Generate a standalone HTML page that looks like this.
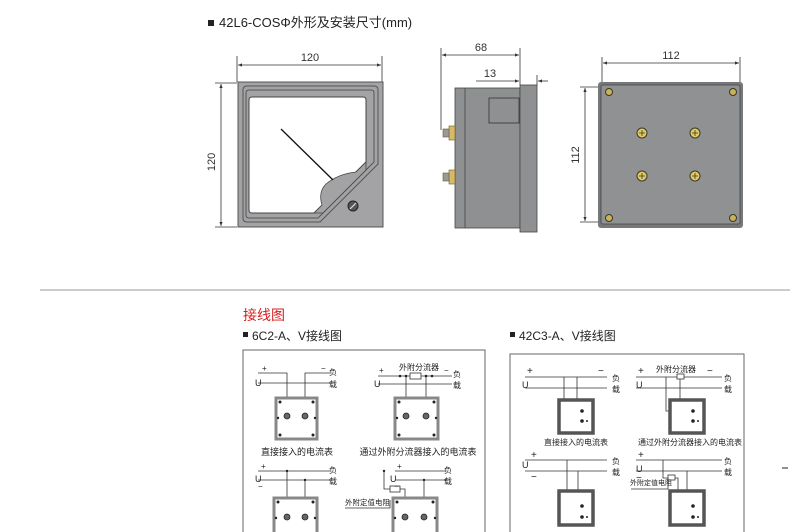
<!DOCTYPE html>
<html><head><meta charset="utf-8"><style>
html,body{margin:0;padding:0;background:#fff;}
svg{display:block;font-family:"Liberation Sans","Noto Sans CJK SC",sans-serif;}
</style></head><body>
<svg width="790" height="532" viewBox="0 0 790 532" xmlns="http://www.w3.org/2000/svg">
<defs>
<marker id="ar" viewBox="0 0 10 10" refX="10" refY="5" markerWidth="7" markerHeight="5" orient="auto-start-reverse"><path d="M0,1 L10,5 L0,9z" fill="#333"/></marker>
</defs>
<rect x="208" y="20" width="6" height="6" fill="#222"/>
<text x="219" y="27" font-size="13" fill="#222">42L6-COSΦ外形及安装尺寸(mm)</text>

<!-- FRONT VIEW -->
<g stroke="#333" stroke-width="0.8" fill="none">
<line x1="237" y1="56" x2="237" y2="82"/><line x1="382" y1="56" x2="382" y2="82"/>
<line x1="238" y1="65" x2="381" y2="65" marker-start="url(#ar)" marker-end="url(#ar)"/>
<line x1="215" y1="83" x2="237" y2="83"/><line x1="215" y1="227" x2="237" y2="227"/>
<line x1="221" y1="84" x2="221" y2="226" marker-start="url(#ar)" marker-end="url(#ar)"/>
</g>
<text x="310" y="61" font-size="11" fill="#333" text-anchor="middle">120</text>
<text transform="translate(215,162) rotate(-90)" font-size="11" fill="#333" text-anchor="middle">120</text>
<rect x="238" y="82" width="145" height="145" fill="#a3a3a5" stroke="#555" stroke-width="1"/>
<path d="M243,90 Q243,86 247,86 L374,86 Q378,86 378,90 L378,164 L320,222 L247,222 Q243,222 243,218Z" fill="none" stroke="#555" stroke-width="1"/>
<path d="M246,93 Q246,90 249,90 L371,90 Q374,90 374,93 L374,162 L318,218 L249,218 Q246,218 246,215Z" fill="none" stroke="#555" stroke-width="1"/>
<path d="M249,100 Q249,97 252,97 L363,97 Q366,97 366,100 L366,162 L314,213 L252,213 Q249,213 249,210Z" fill="#fff" stroke="#444" stroke-width="1"/>
<path d="M314,213 L322,205 Q318,192 326,184 Q338,174 356,172 L366,162 L366,170 L323,213Z" fill="#a3a3a5" stroke="#444" stroke-width="0.8"/>
<line x1="281" y1="129" x2="333" y2="180" stroke="#111" stroke-width="1.3"/>
<circle cx="353" cy="206" r="5" fill="#555" stroke="#222"/>
<line x1="350" y1="209" x2="356" y2="203" stroke="#ddd" stroke-width="1.2"/>

<!-- SIDE VIEW -->
<g stroke="#333" stroke-width="0.8" fill="none">
<line x1="441" y1="48" x2="441" y2="130"/><line x1="520" y1="48" x2="520" y2="85"/>
<line x1="442" y1="55" x2="519" y2="55" marker-start="url(#ar)" marker-end="url(#ar)"/>
<line x1="476" y1="81" x2="519" y2="81" marker-end="url(#ar)"/>
<line x1="537" y1="75" x2="537" y2="85"/>
<line x1="548" y1="81" x2="538" y2="81" marker-end="url(#ar)"/>
</g>
<text x="481" y="51" font-size="11" fill="#333" text-anchor="middle">68</text>
<text x="490" y="77" font-size="11" fill="#333" text-anchor="middle">13</text>
<rect x="455" y="88" width="65" height="140" fill="#8f9092" stroke="#444" stroke-width="0.8"/>
<line x1="465" y1="88" x2="465" y2="228" stroke="#444" stroke-width="0.8"/>
<rect x="489" y="98" width="30" height="25" fill="#8f9092" stroke="#333" stroke-width="0.8"/>
<rect x="520" y="85" width="17" height="147" fill="#8f9092" stroke="#444" stroke-width="0.8"/>
<g fill="#d6b96a" stroke="#6b5a2a" stroke-width="0.6">
<rect x="449" y="126" width="6" height="14"/><rect x="443" y="129" width="6" height="8" fill="#999"/>
<rect x="449" y="170" width="6" height="14"/><rect x="443" y="173" width="6" height="8" fill="#999"/>
</g>

<!-- BACK VIEW -->
<g stroke="#333" stroke-width="0.8" fill="none">
<line x1="602" y1="57" x2="602" y2="85"/><line x1="740" y1="57" x2="740" y2="85"/>
<line x1="603" y1="63" x2="739" y2="63" marker-start="url(#ar)" marker-end="url(#ar)"/>
<line x1="580" y1="87" x2="605" y2="87"/><line x1="580" y1="222" x2="605" y2="222"/>
<line x1="585" y1="88" x2="585" y2="221" marker-start="url(#ar)" marker-end="url(#ar)"/>
</g>
<text x="671" y="59" font-size="11" fill="#333" text-anchor="middle">112</text>
<text transform="translate(579,155) rotate(-90)" font-size="11" fill="#333" text-anchor="middle">112</text>
<rect x="598" y="82" width="145" height="146" rx="3" fill="#77787a"/>
<rect x="601" y="85" width="139" height="139" rx="2" fill="#909193" stroke="#444" stroke-width="0.8"/>
<g fill="#c9b25e" stroke="#3a3a20" stroke-width="1">
<circle cx="609" cy="92" r="3.5"/><circle cx="733" cy="92" r="3.5"/><circle cx="609" cy="218" r="3.5"/><circle cx="733" cy="218" r="3.5"/>
<circle cx="642" cy="133" r="5" fill="#e2c96a"/><circle cx="695" cy="133" r="5" fill="#e2c96a"/><circle cx="642" cy="176" r="5" fill="#e2c96a"/><circle cx="695" cy="176" r="5" fill="#e2c96a"/>
</g>
<g stroke="#3a3a20" stroke-width="0.8">
<path d="M639,133h6M642,130v6M692,133h6M695,130v6M639,176h6M642,173v6M692,176h6M695,173v6"/>
</g>

<line x1="40" y1="290" x2="790" y2="290" stroke="#999" stroke-width="1"/>

<text x="243" y="320" font-size="14" fill="#d42020">接线图</text>
<rect x="243" y="332" width="5" height="5" fill="#222"/>
<text x="252" y="340" font-size="12" fill="#222">6C2-A、V接线图</text>
<rect x="510" y="332" width="5" height="5" fill="#222"/>
<text x="519" y="340" font-size="12" fill="#222">42C3-A、V接线图</text>

<!-- BOX 1 -->
<rect x="243" y="350" width="242" height="190" fill="none" stroke="#666" stroke-width="1"/>
<g stroke="#333" stroke-width="0.8" fill="none">
<path d="M258,373H287V416M305,416V373H330M258,383H330"/>
<path d="M378,376H410M421,376H452M378,384H452M406,376V416M426,376V416"/>
<rect x="410" y="373" width="11" height="6" fill="#fff"/>
<path d="M258,471H330M258,480H330M287,471V517M305,480V517"/>
<path d="M395,471H446M395,480H446M384,471V489H390M400,489H405V517M424,480V517"/>
<rect x="390" y="486" width="10" height="6" fill="#fff"/>
<path d="M345,508H390V500"/>
</g>
<g fill="#fff" stroke="#888" stroke-width="3">
<rect x="276" y="398" width="41" height="41"/><rect x="395" y="398" width="43" height="41"/>
<rect x="274" y="498" width="43" height="40"/><rect x="393" y="498" width="44" height="40"/>
</g>
<g fill="#222">
<circle cx="280" cy="402" r="1.5"/><circle cx="313" cy="402" r="1.5"/><circle cx="280" cy="435" r="1.5"/><circle cx="313" cy="435" r="1.5"/>
<circle cx="278" cy="418" r="1.2"/><circle cx="315" cy="418" r="1.2"/>
<circle cx="399" cy="402" r="1.5"/><circle cx="434" cy="402" r="1.5"/><circle cx="399" cy="435" r="1.5"/><circle cx="434" cy="435" r="1.5"/>
<circle cx="397" cy="418" r="1.2"/><circle cx="436" cy="418" r="1.2"/>
<circle cx="278" cy="502" r="1.5"/><circle cx="313" cy="502" r="1.5"/><circle cx="276" cy="518" r="1.2"/><circle cx="315" cy="518" r="1.2"/>
<circle cx="397" cy="502" r="1.5"/><circle cx="433" cy="502" r="1.5"/><circle cx="395" cy="518" r="1.2"/><circle cx="435" cy="518" r="1.2"/>
<circle cx="400" cy="376" r="1.3"/><circle cx="432" cy="376" r="1.3"/><circle cx="406" cy="376" r="1.3"/><circle cx="426" cy="376" r="1.3"/>
<circle cx="287" cy="471" r="1.2"/><circle cx="305" cy="480" r="1.2"/><circle cx="384" cy="471" r="1.2"/><circle cx="424" cy="480" r="1.2"/>
</g>
<g fill="#666" stroke="#222" stroke-width="0.8">
<circle cx="287" cy="416" r="3"/><circle cx="305" cy="416" r="3"/><circle cx="406" cy="416" r="3"/><circle cx="426" cy="416" r="3"/>
<circle cx="287" cy="517" r="3"/><circle cx="305" cy="517" r="3"/><circle cx="405" cy="517" r="3"/><circle cx="424" cy="517" r="3"/>
</g>
<g font-size="8" fill="#222">
<text x="262" y="371">+</text><text x="255" y="386" font-size="9">U</text><text x="321" y="371">−</text><text x="329" y="375">负</text><text x="329" y="387">载</text>
<text x="379" y="373">+</text><text x="374" y="387" font-size="9">U</text><text x="444" y="373">−</text><text x="453" y="377">负</text><text x="453" y="388">载</text>
<text x="419" y="370" text-anchor="middle">外附分流器</text>
<text x="297" y="455" text-anchor="middle" font-size="9">直接接入的电流表</text>
<text x="418" y="455" text-anchor="middle" font-size="9">通过外附分流器接入的电流表</text>
<text x="261" y="469">+</text><text x="255" y="482" font-size="9">U</text><text x="258" y="489">−</text><text x="329" y="473">负</text><text x="329" y="484">载</text>
<text x="397" y="469">+</text><text x="390" y="482" font-size="9">U</text><text x="394" y="489">−</text><text x="444" y="473">负</text><text x="444" y="484">载</text>
<text x="345" y="505" font-size="7.5">外附定值电阻</text>
</g>

<!-- BOX 2 -->
<rect x="510" y="354" width="234" height="190" fill="none" stroke="#666" stroke-width="1"/>
<g stroke="#333" stroke-width="0.8" fill="none">
<path d="M525,377H607M525,388H607M564,377V411H581M577,377V421H581"/>
<path d="M636,377H677M684,377H722M636,388H722M666,377V411H692M680,377V421H692"/>
<rect x="677" y="374" width="7" height="5" fill="#fff"/>
<path d="M525,460H607M525,471H607M567,460V506H581M578,471V517H581"/>
<path d="M636,460H722M636,471H722M663,460V478H668M675,478H678V506H692M687,471V517H692"/>
<rect x="668" y="475" width="7" height="5" fill="#fff"/>
<path d="M631,489H668V478"/>
</g>
<g fill="#fff" stroke="#555" stroke-width="3.5">
<rect x="559" y="400" width="34" height="33"/><rect x="670" y="400" width="34" height="33"/>
<rect x="559" y="491" width="34" height="34"/><rect x="670" y="491" width="34" height="34"/>
</g>
<g fill="#222">
<circle cx="582" cy="411" r="1.8"/><circle cx="582" cy="421" r="1.8"/><circle cx="587" cy="421" r="1"/>
<circle cx="693" cy="411" r="1.8"/><circle cx="693" cy="421" r="1.8"/><circle cx="698" cy="421" r="1"/>
<circle cx="582" cy="506" r="1.8"/><circle cx="582" cy="517" r="1.8"/><circle cx="587" cy="517" r="1"/>
<circle cx="693" cy="506" r="1.8"/><circle cx="693" cy="517" r="1.8"/><circle cx="698" cy="517" r="1"/>
</g>
<g font-size="8" fill="#222">
<text x="527" y="374" font-size="10">+</text><text x="522" y="388" font-size="9">U</text><text x="598" y="374" font-size="10">−</text><text x="612" y="381">负</text><text x="612" y="392">载</text>
<text x="638" y="374" font-size="10">+</text><text x="636" y="388" font-size="9">U</text><text x="707" y="374" font-size="10">−</text><text x="724" y="381">负</text><text x="724" y="392">载</text>
<text x="676" y="372" text-anchor="middle">外附分流器</text>
<text x="576" y="445" text-anchor="middle">直接接入的电流表</text>
<text x="690" y="445" text-anchor="middle">通过外附分流器接入的电流表</text>
<text x="531" y="458" font-size="10">+</text><text x="522" y="468" font-size="9">U</text><text x="531" y="480" font-size="10">−</text><text x="612" y="464">负</text><text x="612" y="475">载</text>
<text x="638" y="458" font-size="10">+</text><text x="636" y="472" font-size="9">U</text><text x="636" y="481" font-size="10">−</text><text x="724" y="464">负</text><text x="724" y="475">载</text>
<text x="630" y="485" font-size="7">外附定值电阻</text>
</g>
<line x1="782" y1="468" x2="788" y2="468" stroke="#222" stroke-width="1"/>
</svg>
</body></html>
